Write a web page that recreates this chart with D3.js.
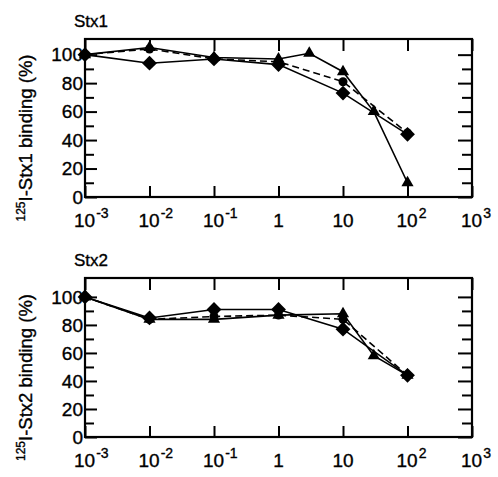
<!DOCTYPE html>
<html>
<head>
<meta charset="utf-8">
<script src="https://cdn.jsdelivr.net/npm/d3@7"></script>
<style>
  body { margin: 0; background: #fff; }
  text { font-family: "Liberation Sans", Arial, sans-serif; fill: #000; stroke: #000; stroke-width: 0.35px; }
</style>
</head>
<body>
<svg id="chart" width="498" height="477"></svg>
<script>
// doses (x) and % binding (y)
const DECADES = [-3, -2, -1, 0, 1, 2, 3];
const Y_MAJOR = [0, 20, 40, 60, 80, 100];
const Y_MINOR = [10, 30, 50, 70, 90];

const stx1DiamondX = [1e-3, 1e-2, 1e-1, 1, 10, 100];
const stx1DiamondY = [100, 94, 97, 93, 73, 44];
const stx1TriangleX = [1e-3, 1e-2, 1e-1, 1, 3, 10, 30, 100];
const stx1TriangleY = [100, 105, 98, 97, 101, 88, 60, 10];
const stx1DashedX = [1e-3, 1e-2, 1e-1, 1, 10, 100];
const stx1DashedY = [100, 104, 97, 95, 81, 45];

const stx2DiamondX = [1e-3, 1e-2, 1e-1, 1, 10, 100];
const stx2DiamondY = [100, 85, 91, 91, 77, 44];
const stx2TriangleX = [1e-3, 1e-2, 1e-1, 1, 10, 30, 100];
const stx2TriangleY = [100, 84, 84, 87, 88, 58, 44];
const stx2DashedX = [1e-3, 1e-2, 1e-1, 1, 10, 100];
const stx2DashedY = [100, 84, 86, 87, 84, 44];

const zip = (xs, ys) => xs.map((x, i) => ({ x: x, y: ys[i] }));

const panels = [
    { title: "Stx1", label: "Stx1", top: 39, bottom: 197, yMax: 111,
      diamond: zip(stx1DiamondX, stx1DiamondY),
      triangle: zip(stx1TriangleX, stx1TriangleY),
      dashed: zip(stx1DashedX, stx1DashedY) },
    { title: "Stx2", label: "Stx2", top: 278, bottom: 437, yMax: 113.5,
      diamond: zip(stx2DiamondX, stx2DiamondY),
      triangle: zip(stx2TriangleX, stx2TriangleY),
      dashed: zip(stx2DashedX, stx2DashedY) }
];

const svg = d3.select("#chart");
const left = 85, right = 472;

const x = d3.scaleLog().domain([1e-3, 1e3]).range([left, right]);

panels.forEach(p => {
    const y = d3.scaleLinear().domain([0, p.yMax]).range([p.bottom, p.top]);
    const g = svg.append("g");
    const decadeVals = DECADES.map(e => Math.pow(10, e));

    // inward ticks on all four sides
    const tickStyle = sel => {
        sel.select(".domain").remove();
        sel.selectAll("line").attr("stroke", "#000").attr("stroke-width", 2);
        sel.selectAll("text").remove();
    };
    g.append("g").attr("transform", `translate(0,${p.bottom})`)
        .call(d3.axisBottom(x).tickValues(decadeVals).tickSize(-11)).call(tickStyle);
    g.append("g").attr("transform", `translate(0,${p.top})`)
        .call(d3.axisTop(x).tickValues(decadeVals).tickSize(-12)).call(tickStyle);
    g.append("g").attr("transform", `translate(${left},0)`)
        .call(d3.axisLeft(y).tickValues(Y_MAJOR).tickSize(-12)).call(tickStyle);
    g.append("g").attr("transform", `translate(${left},0)`)
        .call(d3.axisLeft(y).tickValues(Y_MINOR).tickSize(-9)).call(tickStyle);
    g.append("g").attr("transform", `translate(${right},0)`)
        .call(d3.axisRight(y).tickValues(Y_MAJOR).tickSize(-14)).call(tickStyle);
    g.append("g").attr("transform", `translate(${right},0)`)
        .call(d3.axisRight(y).tickValues(Y_MINOR).tickSize(-10)).call(tickStyle);

    // frame
    g.append("rect")
        .attr("x", left).attr("y", p.top)
        .attr("width", right - left).attr("height", p.bottom - p.top)
        .attr("fill", "none").attr("stroke", "#000").attr("stroke-width", 2.2);

    // y tick labels
    g.selectAll(".ylab").data(Y_MAJOR).enter().append("text")
        .attr("class", "ylab")
        .attr("x", left - 2).attr("y", d => y(d))
        .attr("dy", "0.36em")
        .attr("text-anchor", "end")
        .style("font-size", "19px")
        .text(d => d);

    // x tick labels: 1, 10, else 10^n
    DECADES.forEach(e => {
        const t = g.append("text")
            .attr("y", p.bottom + 30)
            .style("font-size", "19px");
        if (e === 0 || e === 1) {
            t.attr("x", x(Math.pow(10, e))).attr("text-anchor", "middle").text(e === 0 ? "1" : "10");
        } else {
            t.attr("x", x(Math.pow(10, e)) - 11);
            t.append("tspan").text("10");
            t.append("tspan").attr("dy", -9).attr("dx", 1)
                .style("font-size", "14px").text(e < 0 ? "-" + (-e) : String(e));
        }
    });

    // title
    g.append("text")
        .attr("x", 74).attr("y", p.top - 12)
        .style("font-size", "17px")
        .text(p.title);

    // y axis label
    const mid = (p.top + p.bottom) / 2 + 20;
    const yl = g.append("text")
        .attr("transform", `translate(32,${mid}) rotate(-90)`)
        .attr("text-anchor", "middle")
        .style("font-size", "18.5px");
    yl.append("tspan").attr("dy", -7).style("font-size", "12px").text("125");
    yl.append("tspan").attr("dy", 7).text("I-" + p.label + " binding (%)");

    // series
    const line = d3.line().x(d => x(d.x)).y(d => y(d.y));
    g.append("path").datum(p.dashed).attr("d", line)
        .attr("fill", "none").attr("stroke", "#000").attr("stroke-width", 1.6)
        .attr("stroke-dasharray", "7,4");
    g.append("path").datum(p.diamond).attr("d", line)
        .attr("fill", "none").attr("stroke", "#000").attr("stroke-width", 1.6);
    g.append("path").datum(p.triangle).attr("d", line)
        .attr("fill", "none").attr("stroke", "#000").attr("stroke-width", 1.6);

    g.selectAll(".circ").data(p.dashed).enter().append("circle")
        .attr("cx", d => x(d.x)).attr("cy", d => y(d.y)).attr("r", 4.5)
        .attr("fill", "#000");
    g.selectAll(".tri").data(p.triangle).enter().append("path")
        .attr("d", d3.symbol().type(d3.symbolTriangle).size(64))
        .attr("transform", d => `translate(${x(d.x)},${y(d.y)})`)
        .attr("fill", "#000");
    g.selectAll(".dia").data(p.diamond).enter().append("path")
        .attr("d", d3.symbol().type(d3.symbolSquare).size(110))
        .attr("transform", d => `translate(${x(d.x)},${y(d.y)}) rotate(45)`)
        .attr("fill", "#000");
});
</script>
</body>
</html>
